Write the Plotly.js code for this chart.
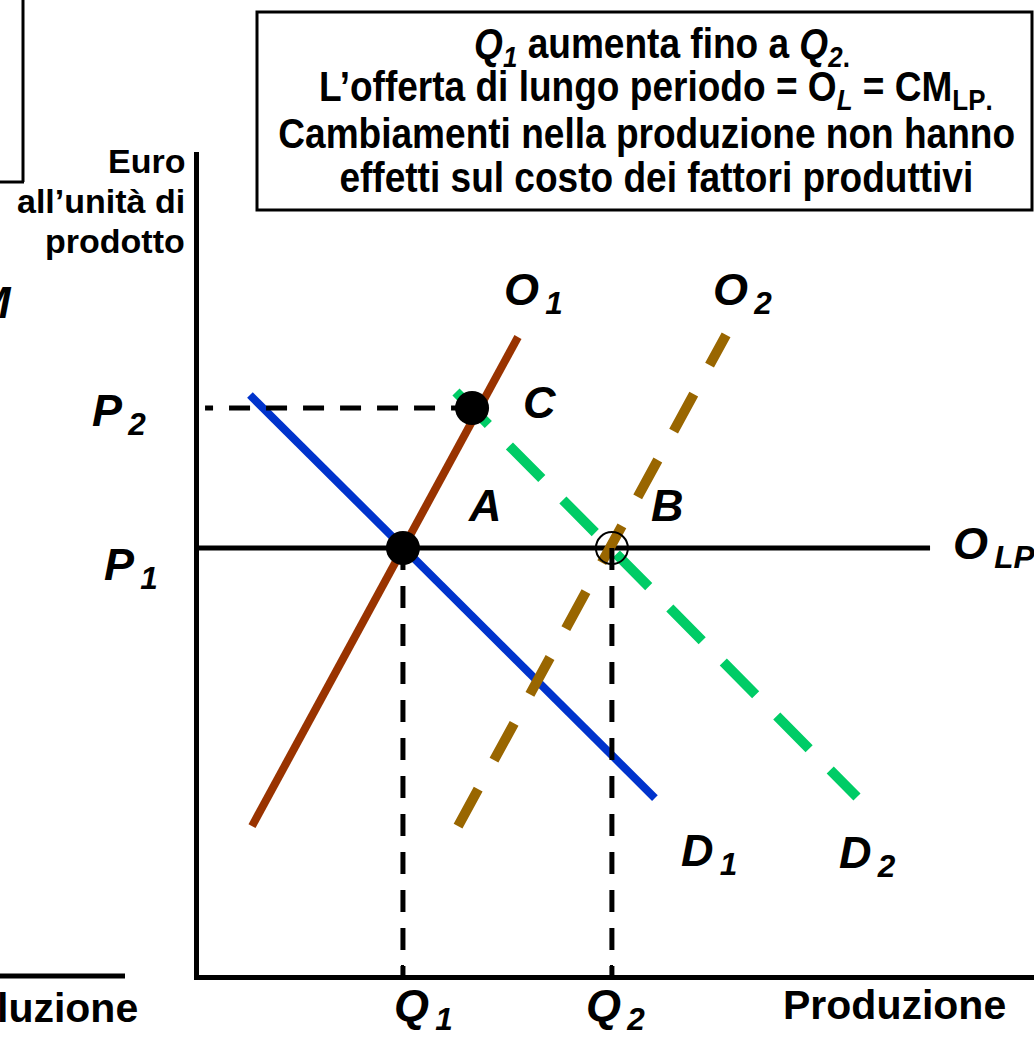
<!DOCTYPE html>
<html>
<head>
<meta charset="utf-8">
<script src="https://cdn.plot.ly/plotly-3.0.1.min.js"></script>
<style>html,body{margin:0;padding:0;background:#fff;}#chart{width:1034px;height:1038px;}</style>
</head>
<body>
<div id="chart"></div>
<script>
// ---- data (x = quantity, y = euro per unit) ----
const Q1 = 9.77, Q2 = 19.78;
const P1 = 20.75, P2 = 27.56;
const D1_q = [2.44, 21.84];  const D1_p = [28.19, 8.60];
const O1_q = [2.54, 15.28];  const O1_p = [7.24, 31.01];
const D2_q = [12.31, 31.52]; const D2_p = [28.34, 8.65];
const O2_q = [12.41, 25.25]; const O2_p = [7.24, 31.11];
const OLP_q = [0, 35.02];
const C_q = 13.08;
const P2_guide_end = 0.29;
const pointLabels = ['A', 'B', 'C'];

// ---- layout helpers (pixel -> paper) ----
const L = 199, T = 152, W = 835, H = 823;
const px = x => (x - L) / W;
const py = y => (T + H - y) / H;

const FONT = 'Liberation Sans, Arial, Helvetica, sans-serif';

const traces = [
  {x: D1_q, y: D1_p, mode: 'lines', line: {color: '#0033CC', width: 8}},
  {x: O1_q, y: O1_p, mode: 'lines', line: {color: '#993300', width: 8}},
  {x: D2_q, y: D2_p, mode: 'lines', line: {color: '#00CC66', width: 10, dash: '46px,30px'}},
  {x: OLP_q, y: [P1, P1], mode: 'lines', line: {color: '#000000', width: 5}},
  {x: O2_q, y: O2_p, mode: 'lines', line: {color: '#996600', width: 10, dash: '42px,33px'}},
  {x: [C_q, P2_guide_end], y: [P2, P2], mode: 'lines', line: {color: '#000', width: 5, dash: '21px,16px'}},
  {x: [Q1, Q1], y: [P1, 0], mode: 'lines', line: {color: '#000', width: 5, dash: '22px,16px'}},
  {x: [Q2, Q2], y: [P1, 0], mode: 'lines', line: {color: '#000', width: 5, dash: '22px,16px'}},
  {x: [Q1, C_q], y: [P1, P2], mode: 'markers', marker: {color: '#000', size: 34}},
  {x: [Q2], y: [P1], mode: 'markers', marker: {symbol: 'circle-open', color: '#000', size: 32, line: {width: 2, color: '#000'}}}
];
traces.forEach(t => { t.hoverinfo = 'skip'; t.showlegend = false; t.cliponaxis = false; });

function lab(text, x, y, size, xanchor) {
  return {text: text, xref: 'paper', yref: 'paper', x: px(x), y: py(y),
          xanchor: xanchor || 'left', yanchor: 'middle', showarrow: false,
          font: {family: FONT, size: size, color: '#000'}};
}
const big = 45;
const sub = s => '<sub>&#8201;' + s + '</sub>';
const annotations = [
  lab('<b><i>O' + sub('1') + '</i></b>', 502, 292, big),
  lab('<b><i>O' + sub('2') + '</i></b>', 711, 292, big),
  lab('<b><i>' + pointLabels[2] + '</i></b>', 540, 402, big, 'center'),
  lab('<b><i>' + pointLabels[0] + '</i></b>', 485, 505, big, 'center'),
  lab('<b><i>' + pointLabels[1] + '</i></b>', 667, 505, big, 'center'),
  lab('<b><i>P' + sub('2') + '</i></b>', 90, 413, big),
  lab('<b><i>P' + sub('1') + '</i></b>', 102, 567, big),
  lab('<b><i>O' + sub('LP') + '</i></b>', 951, 546, big),
  lab('<b><i>D' + sub('1') + '</i></b>', 679, 853, big),
  lab('<b><i>D' + sub('2') + '</i></b>', 837, 855, big),
  lab('<b><i>Q' + sub('1') + '</i></b>', 392, 1008, big),
  lab('<b><i>Q' + sub('2') + '</i></b>', 584, 1008, big),
  lab('<b>Produzione</b>', 894, 1005, 41, 'center'),
  lab('<b>luzione</b>', 140, 1008, 41, 'right'),
  lab('<b><i>M</i></b>', 14, 302, big, 'right'),
  lab('<b>Euro</b>', 187, 161, 34, 'right'),
  lab('<b>all’unità di</b>', 187, 201, 34, 'right'),
  lab('<b>prodotto</b>', 187, 241, 34, 'right'),
  lab('<b><i>Q<sub>1</sub></i> aumenta fino a <i>Q<sub>2</sub></i><sub>.</sub></b>', 662, 47, 42, 'center'),
  lab('<b>L’offerta di lungo periodo = O<sub><i>L</i></sub> = CM<sub>LP</sub><sub>.</sub></b>', 656, 90, 42, 'center'),
  lab('<b>Cambiamenti nella produzione non hanno</b>', 646, 133, 42, 'center'),
  lab('<b>effetti sul costo dei fattori produttivi</b>', 656, 177, 42, 'center')
];
const BOX_FIRST = 18, BOX_REF = 20, BOX_REF_WIDTH = 737;

const shapes = [
  {type: 'rect', xref: 'paper', yref: 'paper', x0: px(257), x1: px(1032), y0: py(12), y1: py(210), line: {color: '#000', width: 3}},
  {type: 'line', xref: 'paper', yref: 'paper', x0: px(23), x1: px(23), y0: py(-5), y1: py(182), line: {color: '#000', width: 3}},
  {type: 'line', xref: 'paper', yref: 'paper', x0: px(-5), x1: px(24), y0: py(182), y1: py(182), line: {color: '#000', width: 3}},
  {type: 'line', xref: 'paper', yref: 'paper', x0: px(-5), x1: px(125), y0: py(976), y1: py(976), line: {color: '#000', width: 5}}
];

const layout = {
  width: 1034, height: 1038,
  margin: {l: L, r: 1034 - L - W, t: T, b: 1038 - T - H, pad: 0},
  paper_bgcolor: '#fff', plot_bgcolor: '#fff',
  showlegend: false,
  xaxis: {range: [0, 40], showgrid: false, zeroline: false, showline: true, linewidth: 5, linecolor: '#000',
          tickvals: [Q1, Q2], ticks: 'inside', ticklen: 10, tickwidth: 3, tickcolor: '#000', showticklabels: false, fixedrange: true},
  yaxis: {range: [0, 40], showgrid: false, zeroline: false, showline: true, linewidth: 5, linecolor: '#000',
          ticks: '', showticklabels: false, fixedrange: true},
  annotations: annotations,
  shapes: shapes
};

Plotly.newPlot('chart', traces, layout, {staticPlot: true, displayModeBar: false}).then(gd => {
  // condensed look of the boxed text (narrow bold face in the original)
  const get = i => gd.querySelector('g.annotation[data-index="' + i + '"] text.annotation-text');
  const ref = get(BOX_REF);
  if (!ref) return;
  const s = BOX_REF_WIDTH / ref.getBBox().width;
  for (let i = BOX_FIRST; i < BOX_FIRST + 4; i++) {
    const t = get(i);
    if (!t) continue;
    t.style.transformBox = 'fill-box';
    t.style.transformOrigin = 'center';
    t.style.transform = 'scaleX(' + s + ')';
  }
});
</script>
</body>
</html>
